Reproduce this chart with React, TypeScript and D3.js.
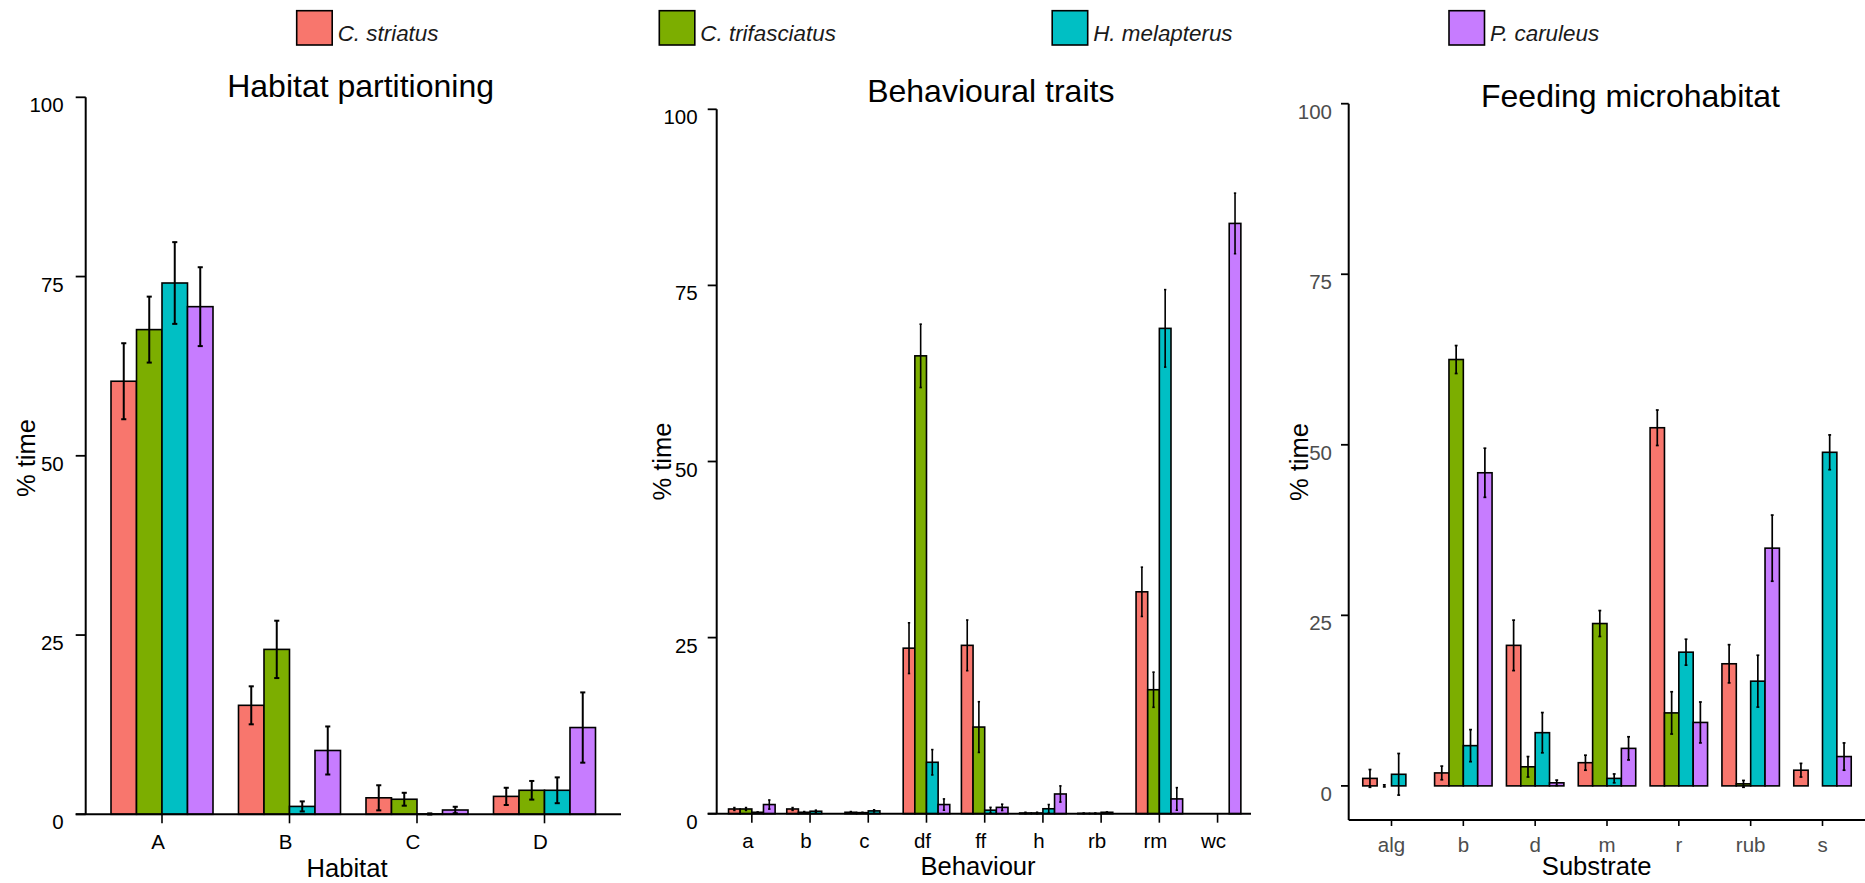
import React from "react";
import * as d3 from "d3";

// Species shown in every panel (legend order)
const SPECIES = ["C. striatus", "C. trifasciatus", "H. melapterus", "P. caruleus"];
const SPECIES_COLORS = ["#F8766D", "#7CAE00", "#00BFC4", "#C77CFF"];

const Y_TICKS = [0, 25, 50, 75, 100];

// Habitat partitioning: rows follow SPECIES order, columns follow categories
const habitatCategories = ["A", "B", "C", "D"];
const habitatMeans = [
  [60.4, 15.2, 2.3, 2.5],
  [67.6, 23.0, 2.1, 3.35],
  [74.1, 1.1, 0.05, 3.35],
  [70.8, 8.9, 0.6, 12.1],
];
const habitatErrors = [
  [5.3, 2.65, 1.75, 1.2],
  [4.6, 4.0, 0.9, 1.3],
  [5.7, 0.7, 0.08, 1.8],
  [5.5, 3.35, 0.45, 4.9],
];

// Behavioural traits
const behaviourCategories = ["a", "b", "c", "df", "ff", "h", "rb", "rm", "wc"];
const behaviourMeans = [
  [0.67, 0.67, 0.2, 23.5, 23.9, 0.1, 0.05, 31.5, 0],
  [0.67, 0.2, 0.15, 65.0, 12.3, 0.1, 0.05, 17.6, 0],
  [0.2, 0.35, 0.4, 7.3, 0.5, 0.7, 0.2, 68.9, 0],
  [1.3, 0, 0, 1.3, 0.9, 2.8, 0, 2.1, 83.8],
];
const behaviourErrors = [
  [0.2, 0.2, 0.1, 3.6, 3.6, 0.1, 0.05, 3.5, 0],
  [0.2, 0.1, 0.05, 4.5, 3.6, 0.1, 0.05, 2.5, 0],
  [0.05, 0.15, 0.15, 1.8, 0.4, 0.6, 0.05, 5.5, 0],
  [0.65, 0, 0, 0.8, 0.45, 1.15, 0, 1.6, 4.3],
];

// Feeding microhabitat
const substrateCategories = ["alg", "b", "d", "m", "r", "rub", "s"];
const substrateMeans = [
  [1.1, 1.9, 20.6, 3.4, 52.5, 17.9, 2.3],
  [0, 62.5, 2.8, 23.8, 10.7, 0.3, 0],
  [1.7, 5.9, 7.8, 1.1, 19.6, 15.35, 48.9],
  [0, 45.9, 0.45, 5.5, 9.3, 34.85, 4.3],
];
const substrateErrors = [
  [1.3, 1.0, 3.7, 1.1, 2.6, 2.8, 1.0],
  [0.15, 2.05, 1.5, 1.9, 3.1, 0.5, 0],
  [3.05, 2.35, 2.95, 0.65, 1.9, 3.8, 2.55],
  [0, 3.6, 0.4, 1.7, 3.0, 4.85, 2.0],
];

const FONT = "'Liberation Sans', Arial, Helvetica, sans-serif";
const W = 1865;
const H = 883;

type PanelLayout = {
  title: string;
  xTitle: string;
  categories: string[];
  means: number[][];
  errors: number[][];
  xRange: [number, number];
  yDomain: [number, number];
  yRange: [number, number];
  yAxisX: number;
  yTickLen: number;
  xAxisY: number | null; // separate bottom axis (panel 3); null -> axis drawn at y = 0
  xAxisRight: number;
  xTickLen: number;
  labelColor: string;
  xLabelDx: number;
  xLabelY: number;
  yLabelGap: number;
  titleX: number;
  titleY: number;
  xTitleX: number;
  xTitleY: number;
  yTitleX: number;
  yTitleY: number;
  errWidth: number;
};

const panels: PanelLayout[] = [
  {
    title: "Habitat partitioning",
    xTitle: "Habitat",
    categories: habitatCategories,
    means: habitatMeans,
    errors: habitatErrors,
    xRange: [85.5, 621],
    yDomain: [0, 100],
    yRange: [814.3, 97.3],
    yAxisX: 85.7,
    yTickLen: 10,
    xAxisY: null,
    xAxisRight: 621,
    xTickLen: 9,
    labelColor: "#000000",
    xLabelDx: -4,
    xLabelY: 849.3,
    yLabelGap: 12,
    titleX: 360.6,
    titleY: 96.5,
    xTitleX: 347,
    xTitleY: 876.7,
    yTitleX: 35,
    yTitleY: 458,
    errWidth: 2,
  },
  {
    title: "Behavioural traits",
    xTitle: "Behaviour",
    categories: behaviourCategories,
    means: behaviourMeans,
    errors: behaviourErrors,
    xRange: [716.9, 1252.5],
    yDomain: [0, 100],
    yRange: [813.7, 109.3],
    yAxisX: 716.7,
    yTickLen: 9,
    xAxisY: null,
    xAxisRight: 1251,
    xTickLen: 9,
    labelColor: "#000000",
    xLabelDx: -4,
    xLabelY: 848.3,
    yLabelGap: 10,
    titleX: 990.8,
    titleY: 101.7,
    xTitleX: 978,
    xTitleY: 875,
    yTitleX: 671,
    yTitleY: 461.5,
    errWidth: 1.6,
  },
  {
    title: "Feeding microhabitat",
    xTitle: "Substrate",
    categories: substrateCategories,
    means: substrateMeans,
    errors: substrateErrors,
    xRange: [1348.4, 1865.6],
    yDomain: [-5, 100],
    yRange: [820, 103.7],
    yAxisX: 1348.7,
    yTickLen: 7.7,
    xAxisY: 820,
    xAxisRight: 1865,
    xTickLen: 6,
    labelColor: "#4D4D4D",
    xLabelDx: 0,
    xLabelY: 851.7,
    yLabelGap: 9,
    titleX: 1630.4,
    titleY: 106.7,
    xTitleX: 1596.6,
    xTitleY: 875,
    yTitleX: 1308,
    yTitleY: 462,
    errWidth: 1.7,
  },
];

// Legend keys across the top
const legendKeyX = [296.7, 659.3, 1052.2, 1449];

function Panel({ p }: { p: PanelLayout }) {
  const x = d3
    .scaleBand<string>()
    .domain(p.categories)
    .range(p.xRange)
    .paddingInner(0)
    .paddingOuter(0.1);
  const step = x.step();
  const dodge = d3
    .scaleBand<string>()
    .domain(SPECIES)
    .range([-0.4 * step, 0.4 * step])
    .padding(0);
  const bw = dodge.bandwidth();
  const y = d3.scaleLinear().domain(p.yDomain).range(p.yRange);
  const y0 = y(0);
  const yTop = y(100);
  const bottomY = p.xAxisY !== null ? p.xAxisY : y0;
  const cx = (c: string) => (x(c) as number) + step / 2;

  return (
    <g>
      {/* bars */}
      {SPECIES.map((s, si) => (
        <g key={s}>
          {p.categories.map((c, ci) => {
            const v = p.means[si][ci];
            const bx = cx(c) + (dodge(s) as number);
            const top = y(Math.max(v, 0));
            return (
              <rect
                key={c}
                x={bx}
                y={top}
                width={bw}
                height={Math.max(y0 - top, 0)}
                fill={SPECIES_COLORS[si]}
                stroke="#000"
                strokeWidth={1.6}
              />
            );
          })}
        </g>
      ))}
      {/* error bars */}
      {SPECIES.map((s, si) => (
        <g key={s + "-err"}>
          {p.categories.map((c, ci) => {
            const v = p.means[si][ci];
            const e = p.errors[si][ci];
            if (e <= 0) return null;
            const mx = cx(c) + (dodge(s) as number) + bw / 2;
            const hw = bw * 0.1;
            const yHi = y(v + e);
            const yLo = y(v - e);
            return (
              <g key={c} stroke="#000" strokeWidth={p.errWidth}>
                <line x1={mx} x2={mx} y1={yHi} y2={yLo} />
                <line x1={mx - hw} x2={mx + hw} y1={yHi} y2={yHi} />
                <line x1={mx - hw} x2={mx + hw} y1={yLo} y2={yLo} />
              </g>
            );
          })}
        </g>
      ))}
      {/* y axis */}
      <line
        x1={p.yAxisX}
        x2={p.yAxisX}
        y1={yTop}
        y2={bottomY}
        stroke="#000"
        strokeWidth={2}
      />
      {Y_TICKS.map((t) => (
        <g key={t}>
          <line
            x1={p.yAxisX - p.yTickLen}
            x2={p.yAxisX}
            y1={y(t)}
            y2={y(t)}
            stroke="#000"
            strokeWidth={1.8}
          />
          <text
            x={p.yAxisX - p.yTickLen - p.yLabelGap}
            y={y(t) + 15}
            textAnchor="end"
            fontFamily={FONT}
            fontSize={20.5}
            fill={p.labelColor}
          >
            {t}
          </text>
        </g>
      ))}
      {/* x axis */}
      <line
        x1={p.xAxisY !== null ? p.yAxisX : p.yAxisX - p.yTickLen}
        x2={p.xAxisRight}
        y1={bottomY}
        y2={bottomY}
        stroke="#000"
        strokeWidth={2}
      />
      {p.categories.map((c) => (
        <g key={c}>
          <line
            x1={cx(c)}
            x2={cx(c)}
            y1={bottomY}
            y2={bottomY + p.xTickLen}
            stroke="#000"
            strokeWidth={1.6}
          />
          <text
            x={cx(c) + p.xLabelDx}
            y={p.xLabelY}
            textAnchor="middle"
            fontFamily={FONT}
            fontSize={20.5}
            fill={p.labelColor}
          >
            {c}
          </text>
        </g>
      ))}
      {/* titles */}
      <text
        x={p.titleX}
        y={p.titleY}
        textAnchor="middle"
        fontFamily={FONT}
        fontSize={32}
        fill="#000"
      >
        {p.title}
      </text>
      <text
        x={p.xTitleX}
        y={p.xTitleY}
        textAnchor="middle"
        fontFamily={FONT}
        fontSize={25.6}
        fill="#000"
      >
        {p.xTitle}
      </text>
      <text
        transform={`translate(${p.yTitleX},${p.yTitleY}) rotate(-90)`}
        textAnchor="middle"
        fontFamily={FONT}
        fontSize={25.6}
        fill="#000"
      >
        % time
      </text>
    </g>
  );
}

function Legend() {
  return (
    <g>
      {SPECIES.map((s, i) => (
        <g key={s}>
          <rect
            x={legendKeyX[i]}
            y={10.7}
            width={35.5}
            height={34.3}
            fill={SPECIES_COLORS[i]}
            stroke="#000"
            strokeWidth={1.6}
          />
          <text
            x={legendKeyX[i] + 41}
            y={41}
            fontFamily={FONT}
            fontStyle="italic"
            fontSize={22.4}
            fill="#1A1A1A"
          >
            {s}
          </text>
        </g>
      ))}
    </g>
  );
}

export default function App() {
  return (
    <svg
      width={W}
      height={H}
      viewBox={`0 0 ${W} ${H}`}
      style={{ position: "absolute", left: 0, top: 0, display: "block", background: "#fff" }}
    >
      <rect x={0} y={0} width={W} height={H} fill="#fff" />
      <Legend />
      {panels.map((p) => (
        <Panel key={p.title} p={p} />
      ))}
    </svg>
  );
}
